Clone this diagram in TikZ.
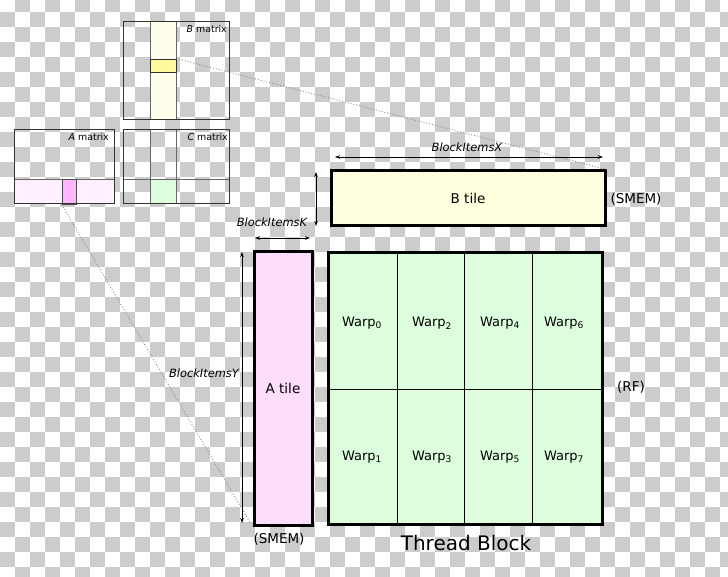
\documentclass[tikz,border=0pt]{standalone}
\usepackage{fontspec}
\setmainfont{DejaVu Sans}
\usetikzlibrary{fit,arrows.meta}
\definecolor{chk}{HTML}{CCCCCC}
\definecolor{tileB}{HTML}{FFFFDF}
\definecolor{tileA}{HTML}{FCDDFC}
\definecolor{tileC}{HTML}{DDFEDD}
\definecolor{bandB}{HTML}{FFFDEC}
\definecolor{selB}{HTML}{FFF99C}
\definecolor{bandA}{HTML}{FFEFFF}
\definecolor{selA}{HTML}{FFB6FF}
\definecolor{gridg}{HTML}{666666}
\definecolor{dotg}{HTML}{8A8A8A}
\tikzset{
  box/.style={fit={#1}, inner sep=0pt, draw=black, line width=3pt},
  matbox/.style={fit={#1}, inner sep=0pt, draw=black!80, line width=1pt},
  cellbox/.style={fit={#1}, inner sep=0pt, draw=black, line width=0.9pt},
  warptext/.style={font=\fontsize{13}{15}\selectfont, inner sep=0pt},
  tiletext/.style={font=\fontsize{13.5}{16}\selectfont, inner sep=0pt},
  dimtext/.style={font=\fontsize{11.4}{14}\selectfont\itshape, inner sep=0pt},
  mattext/.style={font=\fontsize{9.4}{11}\selectfont, inner sep=0pt},
  dimarrow/.style={{Stealth[length=5pt,width=3.5pt]}-{Stealth[length=5pt,width=3.5pt]}, line width=0.8pt},
  proj/.style={dotg, dotted, line width=0.9pt},
}
\begin{document}
\begin{tikzpicture}[x=1pt,y=-1pt]
\useasboundingbox (0,0) rectangle (728,577);
% transparency checkerboard
\begin{scope}
\clip (0,0) rectangle (728,577);
\foreach \i in {0,...,48}{
  \foreach \j in {0,...,39}{
    \pgfmathtruncatemacro{\chkpar}{mod(\i+\j,2)}
    \ifnum\chkpar=1 \fill[chk] (15*\i,15*\j-3) rectangle ++(15,15); \fi
  }
}
\end{scope}

% ---- B matrix ----
\fill[bandB] (150,22) rectangle (176,120);
\draw[gridg, line width=0.6pt] (150,22) -- (150,120) (176,22) -- (176,120);
\node[fit={(150,59) (176,72)}, inner sep=0pt, fill=selB, draw=black!80, line width=0.9pt] (bsel) {};
\node[matbox={(123,22) (229,120)}] (bmat) {};
\node[mattext, anchor=east] (blab) at (227,29) {\textit{B} matrix};

% ---- A matrix ----
\fill[bandA] (14,179) rectangle (114,204);
\draw[gridg, line width=0.6pt] (14,179) -- (114,179);
\node[fit={(62,179) (76,204)}, inner sep=0pt, fill=selA, draw=black!70, line width=0.9pt] (asel) {};
\node[matbox={(14,130) (114,204)}] (amat) {};
\node[mattext, anchor=east] (alab) at (109,137) {\textit{A} matrix};

% ---- C matrix ----
\fill[tileC] (150,179) rectangle (176,204);
\draw[gridg, line width=0.6pt] (150,130) -- (150,204) (176,130) -- (176,204) (123,179) -- (229,179);
\node[matbox={(123,130) (229,204)}] (cmat) {};
\node[mattext, anchor=east] (clab) at (228,137) {\textit{C} matrix};

% ---- B tile ----
\node[box={(331,171) (605,226)}, fill=tileB] (btile) {};
\node[tiletext] (btext) at (btile.center) {B tile};
\node[tiletext] (bsmem) at (636,199) {(SMEM)};

% ---- A tile ----
\node[box={(254,252) (312,525)}, fill=tileA] (atile) {};
\node[tiletext] (atext) at (atile.center) {A tile};
\node[tiletext] (asmem) at (279,539) {(SMEM)};

% ---- Thread block ----
\fill[tileC] (328,253) rectangle (602,524);
\node[cellbox={(328,253) (397,389)}] (w0) {};
\node[cellbox={(397,253) (464,389)}] (w2) {};
\node[cellbox={(464,253) (532,389)}] (w4) {};
\node[cellbox={(532,253) (602,389)}] (w6) {};
\node[cellbox={(328,389) (397,524)}] (w1) {};
\node[cellbox={(397,389) (464,524)}] (w3) {};
\node[cellbox={(464,389) (532,524)}] (w5) {};
\node[cellbox={(532,389) (602,524)}] (w7) {};
\foreach \w/\x/\y in {0/362/323, 2/432/323, 4/500/323, 6/564/323,
                      1/362/457, 3/432/457, 5/500/457, 7/564/457}{
  \node[warptext] (wl\w) at (\x,\y) {Warp\textsubscript{\w}};
}
\node[box={(328,253) (602,524)}] (tb) {};
\node[tiletext] (rf) at (631,387) {(RF)};
\node[font=\fontsize{20}{24}\selectfont, inner sep=0pt] (tblab) at (466,543) {Thread Block};

% ---- projection lines ----
\draw[proj] (bsel.north east) -- (btile.north east);
\draw[proj] (asel.south west) -- (atile.south west);

% ---- dimension arrows ----
\coordinate (x1) at (335,157);
\coordinate (x2) at (603,157);
\draw[dimarrow] (x1) -- (x2);
\node[dimtext] (xlab) at (467,147) {BlockItemsX};

\coordinate (k1) at (316,172);
\coordinate (k2) at (316,226);
\draw[dimarrow] (k1) -- (k2);
\coordinate (k3) at (255,238);
\coordinate (k4) at (310,238);
\draw[dimarrow] (k3) -- (k4);
\node[dimtext] (klab) at (272,222) {BlockItemsK};

\coordinate (y1) at (242,252);
\coordinate (y2) at (242,523);
\draw[dimarrow] (y1) -- (y2);
\node[dimtext] (ylab) at (204,373) {BlockItemsY};
\end{tikzpicture}
\end{document}
